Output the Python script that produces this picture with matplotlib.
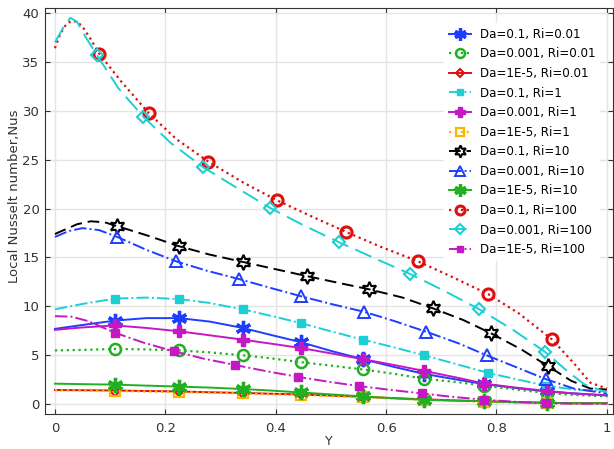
import matplotlib
matplotlib.use("Agg")
import matplotlib.pyplot as plt

# Local Nusselt number along the heated wall for each (Da, Ri) case
grid_a = [0, 0.05, 0.109, 0.165, 0.225, 0.28, 0.34, 0.39, 0.445, 0.5,
          0.558, 0.615, 0.669, 0.73, 0.778, 0.835, 0.891, 0.94, 1.0]

nu_da01_ri001 = [7.7, 8.1, 8.55, 8.8, 8.8, 8.45, 7.8, 7.1, 6.35, 5.45,
                 4.6, 3.8, 3.1, 2.5, 2.05, 1.65, 1.3, 1.1, 0.9]
nu_da0001_ri001 = [5.5, 5.55, 5.65, 5.6, 5.5, 5.3, 5.0, 4.7, 4.3, 3.95,
                   3.55, 3.1, 2.6, 2.25, 1.9, 1.5, 1.15, 0.95, 0.8]
nu_da1e5_ri001 = [1.45, 1.43, 1.4, 1.35, 1.3, 1.22, 1.15, 1.07, 1.0, 0.88,
                  0.75, 0.62, 0.5, 0.38, 0.3, 0.2, 0.15, 0.1, 0.1]
nu_da0001_ri1 = [7.6, 7.85, 8.05, 7.8, 7.45, 7.05, 6.6, 6.2, 5.75, 5.2,
                 4.6, 4.0, 3.4, 2.7, 2.1, 1.7, 1.35, 1.1, 0.9]
nu_da1e5_ri1 = [1.42, 1.4, 1.35, 1.3, 1.25, 1.18, 1.1, 1.02, 0.95, 0.83,
                0.7, 0.57, 0.45, 0.33, 0.25, 0.15, 0.1, 0.05, 0.05]
nu_da1e5_ri10 = [2.1, 2.05, 2.0, 1.9, 1.8, 1.7, 1.55, 1.4, 1.2, 1.0,
                 0.8, 0.6, 0.45, 0.35, 0.3, 0.2, 0.15, 0.1, 0.1]

y_da01_ri1 = [0, 0.05, 0.109, 0.165, 0.225, 0.28, 0.34, 0.39, 0.445, 0.5,
              0.558, 0.615, 0.669, 0.73, 0.785, 0.84, 0.89, 0.94, 1.0]
nu_da01_ri1 = [9.7, 10.25, 10.8, 10.9, 10.75, 10.35, 9.7, 9.05, 8.3, 7.45,
               6.6, 5.8, 5.0, 4.05, 3.2, 2.5, 1.9, 1.5, 1.3]

y_da01_ri10 = [0, 0.02, 0.04, 0.065, 0.09, 0.113, 0.17, 0.225, 0.28, 0.34,
               0.4, 0.456, 0.51, 0.569, 0.63, 0.685, 0.74, 0.79, 0.845,
               0.893, 0.935, 0.97, 1.0]
nu_da01_ri10 = [17.4, 17.9, 18.4, 18.7, 18.6, 18.2, 17.2, 16.15, 15.3, 14.55,
                13.8, 13.1, 12.45, 11.75, 10.9, 9.8, 8.6, 7.25, 5.6,
                3.9, 2.4, 1.6, 1.5]

y_da0001_ri10 = [0, 0.025, 0.05, 0.08, 0.113, 0.165, 0.22, 0.275, 0.333, 0.39,
                 0.445, 0.5, 0.56, 0.615, 0.673, 0.73, 0.782, 0.835, 0.89,
                 0.94, 1.0]
nu_da0001_ri10 = [17.1, 17.7, 18.0, 17.8, 17.1, 15.8, 14.6, 13.65, 12.8, 11.9,
                  11.05, 10.25, 9.45, 8.5, 7.4, 6.25, 5.0, 3.8, 2.55,
                  1.6, 1.1]

y_da01_ri100 = [0, 0.01, 0.02, 0.03, 0.04, 0.05, 0.065, 0.08, 0.12, 0.17,
                0.22, 0.278, 0.34, 0.402, 0.465, 0.528, 0.59, 0.658, 0.72,
                0.785, 0.84, 0.9, 0.94, 0.97, 1.0]
nu_da01_ri100 = [36.4, 37.9, 38.8, 39.2, 39.1, 38.6, 37.3, 35.85, 33.0, 29.75,
                 27.1, 24.8, 22.7, 20.85, 19.2, 17.6, 16.1, 14.6, 13.0,
                 11.25, 9.3, 6.65, 4.2, 2.2, 1.6]

y_da0001_ri100 = [0, 0.01, 0.018, 0.028, 0.04, 0.055, 0.076, 0.115, 0.16, 0.21,
                  0.268, 0.33, 0.389, 0.45, 0.515, 0.58, 0.644, 0.705, 0.769,
                  0.83, 0.888, 0.93, 0.96, 1.0]
nu_da0001_ri100 = [37.0, 38.0, 38.8, 39.5, 39.1, 37.6, 35.7, 32.3, 29.4, 26.7,
                   24.25, 22.1, 20.1, 18.3, 16.55, 14.9, 13.3, 11.6, 9.7,
                   7.6, 5.35, 3.3, 2.0, 1.2]

y_da1e5_ri100 = [0, 0.03, 0.06, 0.109, 0.16, 0.216, 0.27, 0.327, 0.385, 0.44,
                 0.495, 0.551, 0.61, 0.665, 0.72, 0.778, 0.835, 0.89, 0.94, 1.0]
nu_da1e5_ri100 = [9.0, 8.95, 8.5, 7.3, 6.3, 5.4, 4.65, 4.0, 3.35, 2.8,
                  2.3, 1.85, 1.45, 1.1, 0.75, 0.45, 0.25, 0.1, 0.05, 0.05]

labels = ["Da=0.1, Ri=0.01", "Da=0.001, Ri=0.01", "Da=1E-5, Ri=0.01",
          "Da=0.1, Ri=1", "Da=0.001, Ri=1", "Da=1E-5, Ri=1",
          "Da=0.1, Ri=10", "Da=0.001, Ri=10", "Da=1E-5, Ri=10",
          "Da=0.1, Ri=100", "Da=0.001, Ri=100", "Da=1E-5, Ri=100"]

every_other = [2, 4, 6, 8, 10, 12, 14, 16]

blue = "#1f3dff"
green = "#22b022"
red = "#dd0f0f"
cyan = "#1ccfd4"
magenta = "#c418c4"
orange = "#ffb400"

series = [
    (grid_a, nu_da01_ri001, dict(color=blue, ls="-", marker=(6, 2, 0), ms=11, mew=2.4), every_other),
    (grid_a, nu_da0001_ri001, dict(color=green, ls=":", lw=1.6, marker="o", ms=8, mew=1.8, mfc="none"), every_other),
    (grid_a, nu_da1e5_ri001, dict(color=red, ls="-", marker="D", ms=5, mew=1.5, mfc="none"), every_other),
    (y_da01_ri1, nu_da01_ri1, dict(color=cyan, ls="-.", marker="s", ms=6), every_other),
    (grid_a, nu_da0001_ri1, dict(color=magenta, ls="-", marker="P", ms=9), every_other),
    (grid_a, nu_da1e5_ri1, dict(color=orange, ls=":", lw=1.6, marker="s", ms=7, mew=1.6, mfc="none"), every_other),
    (y_da01_ri10, nu_da01_ri10, dict(color="black", ls=(0, (6, 3)), marker=(6, 1, 0), ms=11, mew=1.5, mfc="none"), [5, 7, 9, 11, 13, 15, 17, 19]),
    (y_da0001_ri10, nu_da0001_ri10, dict(color=blue, ls="-.", marker="^", ms=9, mew=1.4, mfc="none"), [4, 6, 8, 10, 12, 14, 16, 18]),
    (grid_a, nu_da1e5_ri10, dict(color=green, ls="-", marker=(6, 2, 0), ms=11, mew=2.4), every_other),
    (y_da01_ri100, nu_da01_ri100, dict(color=red, ls=":", lw=1.6, marker="o", ms=8, mew=2.2, mfc="none"), [7, 9, 11, 13, 15, 17, 19, 21]),
    (y_da0001_ri100, nu_da0001_ri100, dict(color=cyan, ls=(0, (9, 4)), marker="D", ms=6, mew=1.5, mfc="none"), [6, 8, 10, 12, 14, 16, 18, 20]),
    (y_da1e5_ri100, nu_da1e5_ri100, dict(color=magenta, ls="-.", marker="s", ms=6), [3, 5, 7, 9, 11, 13, 15, 17]),
]

fig = plt.figure(figsize=(6.14, 4.49), dpi=100)
ax = fig.add_axes([0.0733, 0.078, 0.925, 0.904])

for (xs, ys, style, marks), lab in zip(series, labels):
    style.setdefault("lw", 1.4)
    ax.plot(xs, ys, markevery=marks, label=lab, **style)

ax.set_xlim(-0.018, 1.011)
ax.set_ylim(-1.0, 40.5)
ax.set_xticks([0, 0.2, 0.4, 0.6, 0.8, 1.0])
ax.set_xticklabels(["0", "0.2", "0.4", "0.6", "0.8", "1"])
ax.set_yticks(range(0, 41, 5))
ax.grid(True, color="#e4e4e4", lw=1.0)
ax.set_axisbelow(True)

for side in ["left", "bottom", "top", "right"]:
    ax.spines[side].set_color("#333333")
ax.tick_params(axis="both", labelsize=9.5, colors="#333333", length=3.5,
               direction="in", top=True, right=True)
ax.tick_params(axis="x", pad=6)
ax.tick_params(axis="y", pad=4)
ax.set_xlabel("Y", fontsize=9, color="#333333", labelpad=0)
ax.set_ylabel("Local Nusselt number,Nus", fontsize=9.5, color="#333333")
ax.yaxis.set_label_coords(-0.042, 0.537)

leg = ax.legend(loc="upper right", bbox_to_anchor=(0.978, 0.963), fontsize=8.6,
                frameon=True, framealpha=1.0, edgecolor="white", fancybox=False,
                handlelength=1.85, handletextpad=0.75, labelspacing=0.55,
                borderaxespad=0.0, markerscale=0.8)
leg.get_frame().set_linewidth(0)

fig.savefig("out.png", dpi=100)
